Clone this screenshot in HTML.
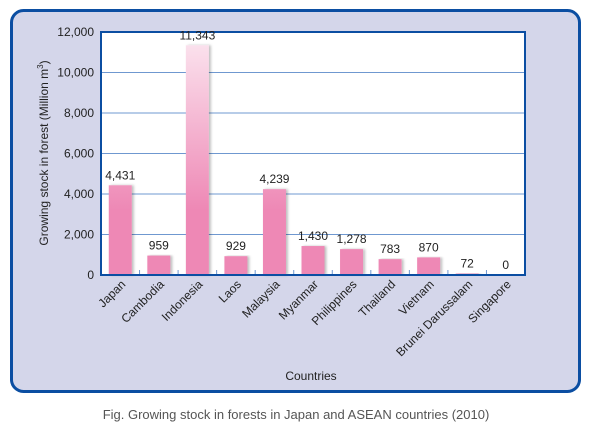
<!DOCTYPE html>
<html><head><meta charset="utf-8"><style>
body{margin:0;background:#fff;width:592px;height:437px;overflow:hidden;font-family:"Liberation Sans",sans-serif}
</style></head><body>
<svg width="592" height="437" viewBox="0 0 592 437">
<defs>
<linearGradient id="g" gradientUnits="userSpaceOnUse" x1="0" y1="40" x2="0" y2="210">
<stop offset="0" stop-color="#fbe3ee"/><stop offset="1" stop-color="#ee88b5"/></linearGradient>
<filter id="sh" x="-20%" y="-5%" width="150%" height="110%"><feDropShadow dx="2" dy="0" stdDeviation="1.2" flood-color="#000" flood-opacity="0.25"/></filter>
</defs>
<rect x="11.5" y="10.5" width="568" height="381" rx="12" fill="#d4d6ea" stroke="#0b4ea2" stroke-width="3"/>
<rect x="101" y="32" width="424" height="243" fill="#fff"/>
<g id="grid"></g>
<g id="bars"></g>
<rect x="101" y="32" width="424" height="243" fill="none" stroke="#0b4ea2" stroke-width="2"/>
<g id="labels" font-size="12" fill="#222"></g>
<text x="0" y="0" transform="translate(48,153) rotate(-90)" text-anchor="middle" font-size="12" fill="#222">Growing stock in forest (Million m<tspan dy="-5" font-size="8">3</tspan><tspan dy="5">)</tspan></text>
<text x="311" y="380" text-anchor="middle" font-size="12" fill="#222">Countries</text>
<text x="296" y="419" text-anchor="middle" font-size="13" fill="#555">Fig.  Growing stock in forests in Japan and ASEAN countries (2010)</text>
</svg>
<script>
const categories=["Japan","Cambodia","Indonesia","Laos","Malaysia","Myanmar","Philippines","Thailand","Vietnam","Brunei Darussalam","Singapore"];
const values=[4431,959,11343,929,4239,1430,1278,783,870,72,0];
const valueLabels=["4,431","959","11,343","929","4,239","1,430","1,278","783","870","72","0"];
const yTicks=[0,2000,4000,6000,8000,10000,12000];
const yTickLabels=["0","2,000","4,000","6,000","8,000","10,000","12,000"];
const NS="http://www.w3.org/2000/svg";
const L=101,R=525,T=32,B=275,YMAX=12000;
const y=v=>B-(v/YMAX)*(B-T);
const bw=(R-L)/categories.length;
const x=i=>L+bw*i;
function mk(tag,attrs,parent){const e=document.createElementNS(NS,tag);for(const k in attrs)e.setAttribute(k,attrs[k]);parent.appendChild(e);return e;}
const grid=document.getElementById('grid'),bars=document.getElementById('bars'),labels=document.getElementById('labels');
yTicks.forEach((t,i)=>{
  if(t>0&&t<YMAX){const l=mk('line',{x1:L,x2:R,y1:y(t),y2:y(t),stroke:'#6f98d0','stroke-width':1},grid);
  
  }
  const tx=mk('text',{x:94,y:y(t)+4,'text-anchor':'end'},labels);tx.textContent=yTickLabels[i];
  
  
});
categories.forEach((c,i)=>{
  const cx=x(i)+bw/2,h=B-y(values[i]);
  const r=mk('rect',{x:cx-11.5,y:y(values[i]),width:23,height:h,fill:'url(#g)',filter:'url(#sh)'},bars);
  
  
  const tk=mk('line',{x1:x(i),x2:x(i),y1:B,y2:B-5,stroke:'#6f98d0'},grid);
  
  
  const vl=mk('text',{x:cx,y:y(values[i])-6,'text-anchor':'middle'},labels);vl.textContent=valueLabels[i];
  
  
  const cl=mk('text',{x:0,y:0,'text-anchor':'end',transform:`translate(${cx+6},${B+10}) rotate(-45)`},labels);cl.textContent=c;
  
  
});
</script>
</body></html>
